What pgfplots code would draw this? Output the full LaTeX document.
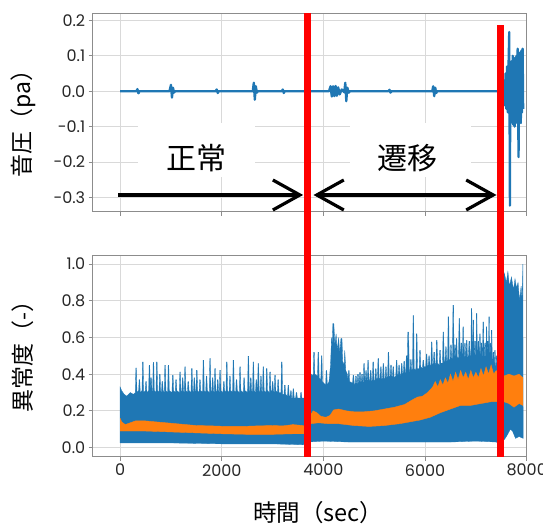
\documentclass[border=0pt]{standalone}
\usepackage{pgfplots}
\pgfplotsset{compat=1.18}
\usepackage{fontspec}
\setmainfont{Poppins}
\newfontfamily\jp{Noto Sans CJK JP}
\usetikzlibrary{arrows.meta}
\definecolor{mblue}{HTML}{1F77B4}
\definecolor{morange}{HTML}{FF7F0E}
\definecolor{mred}{HTML}{FF0000}
\pgfplotsset{
  myax/.style={
    scale only axis, width=434pt, xmin=-540, xmax=8000,
    xtick={0,2000,4000,6000,8000},
    axis line style={black!45, line width=1pt},
    tick style={black!45, line width=0.8pt},
    major tick length=4pt, tick align=outside,
    xtick pos=bottom, ytick pos=left,
    grid=major, major grid style={black!15, line width=1pt},
    tick label style={font=\fontsize{16}{18}\selectfont, text=black!85},
    ylabel style={font=\jp\fontsize{23}{26}\selectfont, anchor=center},
    xlabel style={font=\jp\fontsize{23.5}{26}\selectfont, anchor=center},
  }
}
\begin{document}
\begin{tikzpicture}
\useasboundingbox (-92.7pt,-68.3pt) rectangle (450.3pt,456.7pt);
% ---------------- top axis ----------------
\begin{axis}[myax, at={(0pt,244.7pt)}, anchor=south west,
  height=198.7pt, ymin=-0.341, ymax=0.220,
  xticklabels={},
  ytick={-0.3,-0.2,-0.1,0,0.1,0.2},
  yticklabels={-0.3,-0.2,-0.1,0.0,0.1,0.2},
  ylabel={音圧（pa）},
  ylabel style={at={(axis description cs:-0.16,0.4716)}},
]
\addplot[mblue, line width=2.3pt, line join=round] coordinates {
(0,0) (320,0) (340,0.006) (360,-0.006) (380,0) (970,0)
(1000,0.018) (1020,-0.018) (1040,0.01) (1060,-0.004) (1080,0) (1880,0) (1900,0.005) (1920,-0.005) (1940,0) (2610,0)
(2630,0.024) (2650,-0.024) (2670,0.014) (2690,-0.004) (2710,0) (3180,0) (3200,0.005) (3220,-0.005) (3240,0) (4110,0)
(4140,0.014) (4165,-0.015) (4190,0.014) (4215,-0.014) (4240,0.015) (4265,-0.013) (4290,0.011) (4320,-0.009) (4360,0.005) (4410,-0.003)
(4430,0.024) (4450,-0.028) (4470,0.01) (4500,-0.004) (4520,0) (5280,0) (5300,0.004) (5320,-0.004) (5340,0) (6140,0)
(6160,0.014) (6180,-0.014) (6200,0.01) (6220,-0.005) (6240,0) (7440,0)
(7470,-0.008) (7490,0.012) (7510,-0.015) (7525,0.02) (7540,-0.025) (7555,0.03) (7570,-0.04) (7585,0.05) (7600,-0.05) (7615,0.07)
(7630,-0.06) (7645,0.09) (7656,0.167) (7663,-0.07) (7670,-0.323) (7677,0.06) (7690,-0.09) (7702,0.085) (7714,-0.08) (7726,0.1)
(7738,-0.095) (7750,0.08) (7762,-0.1) (7774,0.095) (7786,-0.085) (7798,0.1) (7810,-0.09) (7822,0.12) (7834,-0.1) (7840,-0.186)
(7848,0.09) (7860,-0.07) (7872,0.11) (7884,-0.09) (7896,0.115) (7908,-0.06) (7920,0.12) (7930,-0.05)
};
\node[fill=white, minimum width=117pt, minimum height=54pt, inner sep=0pt] at (axis cs:1495,-0.166) {};
\node[fill=white, minimum width=121pt, minimum height=54pt, inner sep=0pt] at (axis cs:5708,-0.166) {};
\node[font=\jp\fontsize{30}{32}\selectfont, inner sep=0pt] at (axis cs:1495,-0.19) {正常};
\node[font=\jp\fontsize{30}{32}\selectfont, inner sep=0pt] at (axis cs:5657,-0.19) {遷移};
\addplot[black, line width=3.2pt, -{Straight Barb[length=27pt, width=30pt]}] coordinates {(-34,-0.293) (3601,-0.293)};
\addplot[black, line width=3.2pt, {Straight Barb[length=27pt, width=30pt]}-{Straight Barb[length=27pt, width=30pt]}] coordinates {(3805,-0.293) (7406,-0.293)};
\end{axis}
% ---------------- bottom axis ----------------
\begin{axis}[myax, at={(0pt,0pt)}, anchor=south west,
  height=201.7pt, ymin=-0.05, ymax=1.05, clip=false,
  xticklabels={0,2000,4000,6000,8000},
  ytick={0,0.2,0.4,0.6,0.8,1.0},
  yticklabels={0.0,0.2,0.4,0.6,0.8,1.0},
  ylabel={異常度（-）},
  ylabel style={at={(axis description cs:-0.16,0.525)}},
  xlabel={時間（sec）},
  xlabel style={at={(axis description cs:0.52,-0.279)}},
]
% blue: upper envelope (spikes) then lower envelope
\addplot[fill=mblue, draw=mblue, line width=0.3pt] coordinates {
(0,0.025) (0,0.33) (30,0.31) (80,0.29) (130,0.28) (200,0.30) (260,0.29)
(299,.30) (309,.434) (321,.434) (331,.30) (364,.31) (374,.37) (386,.37) (396,.30) (430,.31) (440,.467) (452,.467) (462,.30)
(494,.31) (504,.36) (516,.36) (526,.30) (561,.31) (571,.449) (583,.449) (593,.30) (594,.30) (604,.38) (616,.38) (626,.31)
(640,.30) (650,.464) (662,.464) (672,.31) (705,.30) (715,.467) (727,.467) (737,.31) (764,.30) (774,.40) (786,.40) (796,.31)
(814,.30) (824,.36) (836,.36) (846,.31) (869,.30) (879,.449) (891,.449) (901,.31) (935,.30) (945,.449) (957,.449) (967,.31)
(1020,.30) (1030,.394) (1042,.394) (1052,.31) (1084,.30) (1094,.37) (1106,.37) (1116,.31) (1164,.30) (1174,.412) (1186,.412) (1196,.31)
(1214,.30) (1224,.38) (1236,.38) (1246,.31) (1262,.30) (1272,.44) (1284,.44) (1294,.31) (1324,.30) (1334,.36) (1346,.36) (1356,.31)
(1394,.30) (1404,.431) (1416,.431) (1426,.31) (1444,.30) (1454,.38) (1466,.38) (1476,.31) (1492,.30) (1502,.422) (1514,.422) (1524,.31)
(1554,.30) (1564,.37) (1576,.37) (1586,.31) (1623,.30) (1633,.476) (1645,.476) (1655,.31) (1684,.30) (1694,.39) (1706,.39) (1716,.31)
(1754,.30) (1764,.486) (1776,.486) (1786,.31) (1804,.30) (1814,.38) (1826,.38) (1836,.31) (1852,.30) (1862,.431) (1874,.431) (1884,.31)
(1904,.30) (1914,.37) (1926,.37) (1936,.31) (1951,.30) (1961,.422) (1973,.422) (1983,.31) (2024,.30) (2034,.36) (2046,.36) (2056,.31)
(2082,.30) (2092,.467) (2104,.467) (2114,.31) (2144,.30) (2154,.39) (2166,.39) (2176,.31) (2213,.30) (2223,.476) (2235,.476) (2245,.31)
(2274,.30) (2284,.37) (2296,.37) (2306,.31) (2344,.30) (2354,.44) (2366,.44) (2376,.31) (2424,.30) (2434,.38) (2446,.38) (2456,.31)
(2508,.30) (2518,.498) (2530,.498) (2540,.31) (2554,.30) (2564,.38) (2576,.38) (2586,.31) (2606,.30) (2616,.467) (2628,.467) (2638,.31)
(2664,.30) (2674,.37) (2686,.37) (2696,.31) (2704,.30) (2714,.458) (2726,.458) (2736,.31) (2754,.30) (2764,.39) (2776,.39) (2786,.31)
(2802,.30) (2812,.44) (2824,.44) (2834,.31) (2868,.30) (2878,.431) (2890,.431) (2900,.31) (2934,.30) (2944,.412) (2956,.412) (2966,.31)
(2984,.30) (2994,.36) (3006,.36) (3016,.31) (3032,.30) (3042,.394) (3054,.394) (3064,.31) (3094,.30) (3104,.37) (3116,.37) (3126,.30)
(3164,.30) (3174,.467) (3186,.467) (3196,.29) (3224,.29) (3234,.34) (3246,.34) (3256,.29) (3294,.28) (3304,.34) (3316,.34) (3326,.28)
(3344,.28) (3354,.31) (3366,.31) (3376,.27) (3393,.27) (3403,.32) (3415,.32) (3425,.27) (3454,.27) (3464,.30) (3476,.30) (3486,.27)
(3544,.27) (3554,.30) (3566,.30) (3576,.27) (3620,0.27) (3680,0.27)
(3700,0.36) (3740,0.38) (3770,0.40)
(3799,.39) (3809,.52) (3821,.52) (3831,.40) (3884,.39) (3894,.52) (3906,.52) (3916,.38) (3949,.37) (3959,.50) (3971,.50) (3981,.36)
(4010,0.35) (4044,.34) (4054,.42) (4066,.42) (4076,.34)
(4110,0.36) (4140,0.45) (4160,0.60) (4175,0.56) (4185,0.676) (4205,0.676) (4225,0.56) (4250,0.62) (4270,0.53) (4300,0.60) (4320,0.51)
(4345,0.595) (4365,0.595) (4380,0.47) (4408,0.45) (4420,0.53) (4440,0.42) (4470,0.40)
(4484,.37) (4494,.42) (4506,.42) (4516,.36) (4574,.35) (4584,.394) (4596,.394) (4606,.35) (4624,.34) (4634,.39) (4646,.39) (4656,.35)
(4664,.34) (4674,.40) (4686,.40) (4696,.35) (4704,.36) (4714,.41) (4726,.41) (4736,.35) (4744,.36) (4754,.40) (4766,.40) (4776,.36)
(4784,.35) (4794,.458) (4806,.458) (4816,.36) (4824,.37) (4834,.42) (4846,.42) (4856,.36) (4864,.37) (4874,.476) (4886,.476) (4896,.36)
(4914,.37) (4924,.42) (4936,.42) (4946,.36) (4964,.37) (4974,.467) (4986,.467) (4996,.37) (5014,.36) (5024,.43) (5036,.43) (5046,.37)
(5064,.38) (5074,.485) (5086,.485) (5096,.37) (5114,.38) (5124,.44) (5136,.44) (5146,.37) (5164,.38) (5174,.458) (5186,.458) (5196,.38)
(5214,.37) (5224,.44) (5236,.44) (5246,.38) (5264,.39) (5274,.52) (5286,.52) (5296,.38) (5314,.39) (5324,.45) (5336,.45) (5346,.38)
(5359,.39) (5369,.44) (5381,.44) (5391,.38) (5424,.39) (5434,.476) (5446,.476) (5456,.39) (5474,.40) (5484,.45) (5496,.45) (5506,.39)
(5524,.40) (5534,.458) (5546,.458) (5556,.40) (5574,.41) (5584,.47) (5596,.47) (5606,.40)
(5620,.41) (5630,.50) (5642,.50) (5652,.45) (5660,.63) (5676,.63) (5690,.42)
(5704,.41) (5714,.48) (5726,.48) (5736,.42) (5754,.43) (5764,.72) (5776,.72) (5786,.43) (5819,.42) (5829,.62) (5841,.62) (5851,.43)
(5884,.43) (5894,.53) (5906,.53) (5916,.44) (5949,.43) (5959,.476) (5971,.476) (5981,.44) (6014,.44) (6024,.51) (6036,.51) (6046,.44)
(6064,.45) (6074,.50) (6086,.50) (6096,.45) (6114,.44) (6124,.576) (6136,.576) (6146,.45) (6164,.46) (6174,.52) (6186,.52) (6196,.45)
(6214,.46) (6224,.585) (6236,.585) (6246,.46) (6279,.45) (6289,.53) (6301,.53) (6311,.46) (6344,.46) (6354,.63) (6366,.63) (6376,.47)
(6394,.47) (6404,.55) (6416,.55) (6426,.47) (6444,.48) (6454,.713) (6466,.713) (6476,.48) (6494,.48) (6504,.56) (6516,.56) (6526,.48)
(6539,.49) (6549,.776) (6561,.776) (6571,.49) (6578,.49) (6586,.56) (6594,.56) (6602,.48) (6608,.49) (6615,.595) (6625,.595) (6634,.49)
(6659,.49) (6669,.703) (6681,.703) (6691,.49) (6700,.50) (6710,.57) (6720,.57) (6730,.49) (6736,.50) (6745,.658) (6755,.658) (6764,.50)
(6771,.49) (6780,.57) (6790,.57) (6799,.50) (6806,.50) (6815,.585) (6825,.585) (6834,.49) (6854,.50) (6864,.58) (6876,.58) (6886,.50)
(6901,.50) (6910,.758) (6920,.758) (6928,.50) (6936,.50) (6945,.695) (6955,.695) (6964,.50) (6971,.50) (6980,.58) (6990,.58) (6998,.50)
(7003,.50) (7010,.731) (7020,.731) (7028,.50) (7036,.50) (7045,.58) (7055,.58) (7064,.50) (7069,.50) (7075,.62) (7085,.62) (7093,.49)
(7099,.49) (7105,.57) (7115,.57) (7123,.50) (7131,.50) (7140,.685) (7150,.685) (7159,.50) (7166,.49) (7175,.57) (7185,.57) (7194,.49)
(7199,.50) (7205,.658) (7215,.658) (7222,.49) (7226,.49) (7231,.58) (7239,.58) (7246,.49) (7250,.50) (7255,.713) (7265,.713) (7271,.50)
(7276,.49) (7281,.57) (7289,.57) (7295,.49) (7300,.48) (7305,.64) (7315,.64) (7322,.48) (7333,.47) (7340,.52) (7350,.52) (7357,.46)
(7363,.46) (7370,.53) (7380,.53) (7387,.45) (7398,.44) (7405,.50) (7415,.50) (7422,.45)
(7440,0.50) (7470,0.55) (7490,0.60)
(7530,0.85) (7560,0.95) (7600,0.90) (7630,0.96) (7660,0.88) (7700,0.93) (7740,0.86) (7770,0.92) (7800,0.87)
(7830,0.90) (7860,0.80) (7890,0.88) (7910,0.80) (7925,1.0) (7930,0.05)
(7850,0.06) (7780,0.05) (7720,0.09) (7680,0.10) (7640,0.08) (7600,0.06) (7550,0.04) (7480,0.02) (7400,0.03) (7000,0.035) (6500,0.03)
(6000,0.03) (5500,0.03) (5000,0.03) (4500,0.03) (4000,0.035) (3700,0.03) (3600,0.015) (3000,0.02) (2000,0.02) (1000,0.025) (0,0.025)
};
% orange band
\addplot[fill=morange, draw=morange, line width=0.4pt] coordinates {
(0,0.16) (30,0.14) (100,0.125) (200,0.135) (300,0.145) (500,0.145) (700,0.14) (900,0.135) (1100,0.13) (1300,0.125) (1500,0.12)
(1800,0.118) (2100,0.115) (2400,0.115) (2700,0.118) (3000,0.12) (3200,0.118) (3400,0.125) (3600,0.12) (3690,0.12) (3750,0.18)
(3800,0.20) (3870,0.19) (3950,0.17) (4050,0.165) (4130,0.175) (4200,0.205) (4300,0.21) (4450,0.20) (4600,0.195) (4800,0.195)
(5000,0.20) (5200,0.21) (5400,0.22) (5600,0.235) (5750,0.26) (5850,0.275) (5950,0.28) (6050,0.30) (6150,0.33) (6200,0.36) (6250,0.33)
(6300,0.37) (6350,0.34) (6400,0.38) (6450,0.35) (6500,0.40) (6550,0.36) (6600,0.41) (6650,0.37) (6700,0.42) (6750,0.38) (6800,0.41)
(6850,0.37) (6900,0.42) (6950,0.38) (7000,0.41) (7050,0.38) (7100,0.43) (7150,0.39) (7200,0.44) (7250,0.40) (7300,0.45) (7350,0.40)
(7400,0.42) (7480,0.38) (7550,0.39) (7650,0.40) (7750,0.39) (7850,0.40) (7925,0.38)
(7925,0.23) (7850,0.24) (7750,0.22) (7650,0.24) (7550,0.25) (7450,0.25) (7300,0.25) (7100,0.24) (6900,0.23) (6700,0.23) (6500,0.21)
(6300,0.19) (6100,0.165) (5900,0.15) (5700,0.14) (5500,0.13) (5200,0.12) (4900,0.115) (4600,0.12) (4300,0.13) (4100,0.13) (3900,0.135)
(3750,0.13) (3690,0.075) (3400,0.075) (3000,0.072) (2500,0.072) (2000,0.075) (1500,0.08) (1000,0.085) (500,0.09) (200,0.09) (0,0.09)
};
% red markers spanning both panels
\addplot[mred, line width=6.5pt] coordinates {(3684,-0.05) (3684,2.368)};
\addplot[mred, line width=6.5pt] coordinates {(7489,-0.05) (7489,2.304)};
\end{axis}
\end{tikzpicture}
\end{document}
